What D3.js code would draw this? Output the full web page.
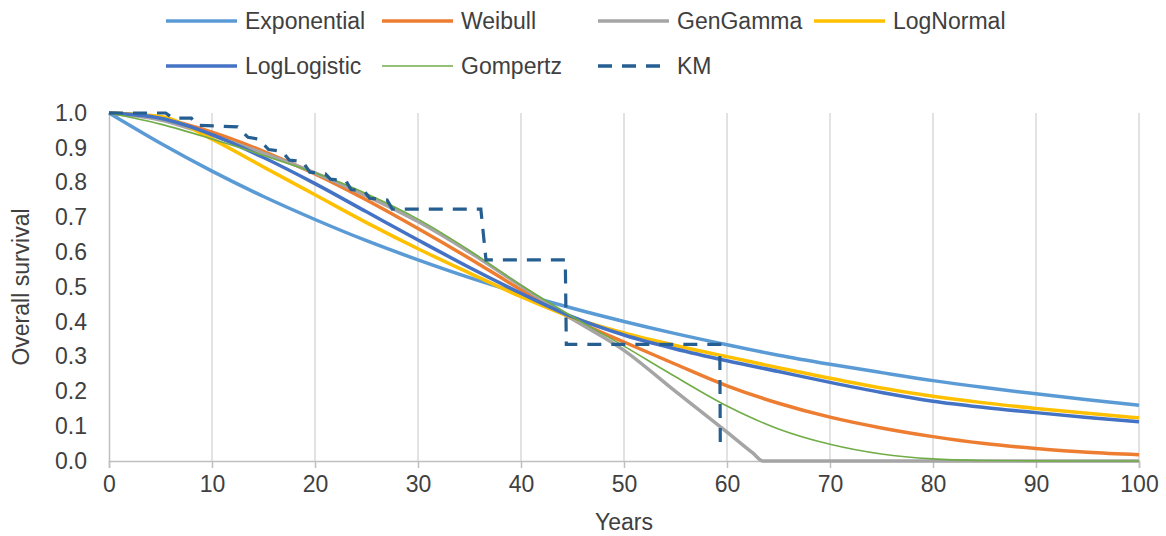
<!DOCTYPE html>
<html>
<head>
<meta charset="utf-8">
<script src="https://cdn.jsdelivr.net/npm/d3@7"></script>
<style>
  html, body { margin: 0; padding: 0; background: #fff; }
  text { font-family: "Liberation Sans", Arial, sans-serif; fill: #404040; }
</style>
</head>
<body>
<svg id="chart" width="1166" height="536"></svg>
<script>
// ---- data ----
const years = [0,5,10,15,20,25,30,35,40,45,50,55,60,65,70,75,80,85,90,95,100];
const exponential = [1.000,0.913,0.833,0.760,0.694,0.633,0.578,0.527,0.481,0.439,0.401,0.366,0.334,0.304,0.278,0.254,0.231,0.211,0.193,0.176,0.160];
const weibull     = [1.000,0.985,0.945,0.890,0.825,0.750,0.668,0.582,0.492,0.408,0.342,0.278,0.216,0.166,0.126,0.095,0.070,0.050,0.036,0.025,0.018];
const logNormal   = [1.000,0.990,0.925,0.845,0.765,0.685,0.610,0.540,0.472,0.412,0.368,0.332,0.300,0.268,0.238,0.210,0.186,0.167,0.151,0.137,0.124];
const logLogistic = [1.000,0.985,0.938,0.872,0.797,0.716,0.635,0.556,0.482,0.414,0.362,0.322,0.288,0.257,0.226,0.197,0.172,0.154,0.139,0.125,0.113];
const gompertz    = [1.000,0.968,0.925,0.878,0.828,0.768,0.695,0.605,0.505,0.415,0.330,0.242,0.158,0.092,0.048,0.020,0.006,0.0015,0.0003,0,0];
const genGammaYears = [0,5,10,15,20,25,30,35,40,45,50,55,60,62.5,63.5,65,70,75,80,85,90,95,100];
const genGamma      = [1.000,0.980,0.935,0.884,0.828,0.762,0.688,0.600,0.503,0.408,0.318,0.200,0.083,0.023,0,0,0,0,0,0,0,0,0];
const kmYears    = [0,5.5,6.2,8.0,8.5,12.5,13.5,14.5,15.5,16.8,17.5,18.8,19.5,21.0,21.5,23.0,23.5,24.8,25.3,27.0,27.5,36.1,36.6,44.3,44.4,59.3,59.35];
const kmSurvival = [1.0,1.0,0.985,0.985,0.965,0.960,0.930,0.925,0.895,0.890,0.865,0.860,0.830,0.825,0.810,0.805,0.780,0.775,0.755,0.750,0.724,0.724,0.578,0.578,0.335,0.335,0.046];
const xTicks = [0,10,20,30,40,50,60,70,80,90,100];
const yTicks = [0,0.1,0.2,0.3,0.4,0.5,0.6,0.7,0.8,0.9,1.0];
const seriesNames = ["Exponential","Weibull","GenGamma","LogNormal","LogLogistic","Gompertz","KM"];
const seriesColors = ["#5B9BD5","#ED7D31","#A5A5A5","#FFC000","#4472C4","#70AD47","#255E91"];

// ---- layout ----
const svg = d3.select("#chart");
const plotL = 109, plotR = 1139, plotT = 113, plotB = 461;
const x = d3.scaleLinear().domain([0,100]).range([plotL,plotR]);
const y = d3.scaleLinear().domain([0,1]).range([plotB,plotT]);
const FS = 23;

// vertical gridlines
svg.append("g").selectAll("line").data(xTicks.slice(1)).join("line")
  .attr("x1", d => x(d)).attr("x2", d => x(d))
  .attr("y1", plotT).attr("y2", plotB)
  .attr("stroke", "#D9D9D9").attr("stroke-width", 1.5);

// x axis
const xAxis = svg.append("g").attr("transform", `translate(0,${plotB})`)
  .call(d3.axisBottom(x).tickValues(xTicks).tickSize(7).tickPadding(8).tickFormat(d3.format("d")));
xAxis.select(".domain").attr("stroke", "#BFBFBF").attr("stroke-width", 1.5);
xAxis.selectAll(".tick line").attr("stroke", "#BFBFBF").attr("stroke-width", 1.5);
xAxis.selectAll("text").attr("font-size", FS).attr("font-family", "Liberation Sans, Arial, sans-serif").attr("fill", "#404040");

// y axis
const yAxis = svg.append("g").attr("transform", `translate(${plotL},0)`)
  .call(d3.axisLeft(y).tickValues(yTicks).tickSize(0).tickPadding(22).tickFormat(d3.format(".1f")));
yAxis.select(".domain").attr("stroke", "#BFBFBF").attr("stroke-width", 1.5);
yAxis.selectAll("text").attr("font-size", FS).attr("font-family", "Liberation Sans, Arial, sans-serif").attr("fill", "#404040");

// axis titles
svg.append("text").attr("x", (plotL+plotR)/2).attr("y", 530)
  .attr("text-anchor", "middle").attr("font-size", FS).text("Years");
svg.append("text").attr("transform", `translate(29,${(plotT+plotB)/2}) rotate(-90)`)
  .attr("text-anchor", "middle").attr("font-size", FS).text("Overall survival");

// curves
const line = d3.line().x(d => x(d[0])).y(d => y(d[1])).curve(d3.curveMonotoneX);
const curves = [
  {name:"Exponential", xs: years, ys: exponential, w: 3.5},
  {name:"Weibull", xs: years, ys: weibull, w: 3.5},
  {name:"GenGamma", xs: genGammaYears, ys: genGamma, w: 3.5},
  {name:"LogNormal", xs: years, ys: logNormal, w: 3.5},
  {name:"LogLogistic", xs: years, ys: logLogistic, w: 3.5},
  {name:"Gompertz", xs: years, ys: gompertz, w: 1.6},
];
const color = n => seriesColors[seriesNames.indexOf(n)];
curves.forEach(c => {
  svg.append("path").datum(c.xs.map((t,i) => [t, c.ys[i]]))
    .attr("d", line).attr("fill", "none")
    .attr("stroke", color(c.name)).attr("stroke-width", c.w)
    .attr("stroke-linejoin", "round");
});
// KM
svg.append("path").datum(kmYears.map((t,i) => [t, kmSurvival[i]]))
  .attr("d", d3.line().x(d => x(d[0])).y(d => y(d[1])))
  .attr("fill", "none").attr("stroke", color("KM")).attr("stroke-width", 3.2)
  .attr("stroke-dasharray", "14,10");

// legend
const legend = svg.append("g");
const colW = 216, legX = 166, rowY = [21, 66];
seriesNames.forEach((n, i) => {
  const row = Math.floor(i / 4), col = i % 4;
  const gx = legX + col * colW, gy = rowY[row];
  const g = legend.append("g").attr("transform", `translate(${gx},${gy})`);
  g.append("line").attr("x1", 0).attr("x2", 71).attr("y1", 0).attr("y2", 0)
    .attr("stroke", color(n))
    .attr("stroke-width", n === "Gompertz" ? 1.6 : 3.5)
    .attr("stroke-dasharray", n === "KM" ? "14,10" : null);
  g.append("text").attr("x", 79).attr("y", 0).attr("dy", "0.35em")
    .attr("font-size", FS).text(n);
});
</script>
</body>
</html>
